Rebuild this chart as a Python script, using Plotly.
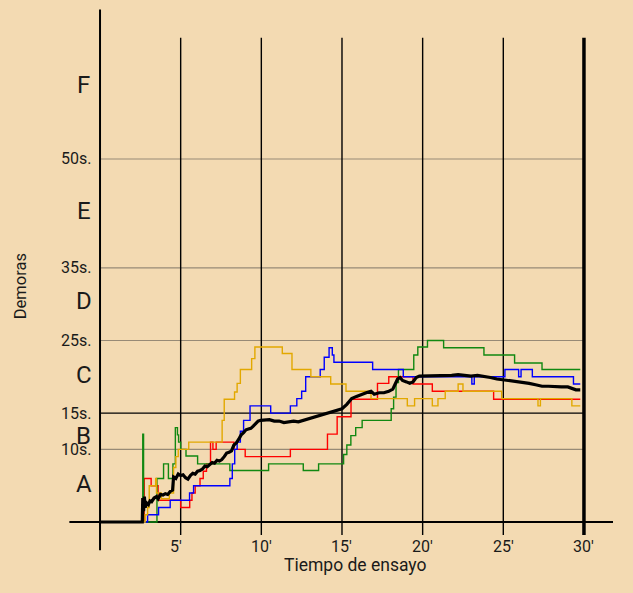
import plotly.graph_objects as go

# ---------------- data (minutes, seconds) ----------------
red_t = [2.6, 2.74, 3.17, 3.6, 5.0, 5.56, 5.7, 5.9, 6.2, 6.4, 6.6, 6.85, 7.0, 7.2, 8.3, 9.0, 11.8, 14.1, 14.7, 15.56, 17.2, 17.9, 19.4, 20.6, 24.4, 29.77]
red_v = [0, 6.0, 5.0, 3.0, 2.0, 3.0, 4.0, 5.0, 6.0, 7.0, 8.0, 11.0, 10.0, 11.0, 10.0, 9.0, 10.0, 12.1, 14.5, 16.9, 19.1, 20.0, 19.0, 18.0, 16.9, 16.9]

blue_t = [2.6, 2.95, 3.63, 4.35, 5.55, 5.8, 8.05, 8.2, 8.35, 8.5, 8.7, 8.9, 9.3, 10.58, 11.8, 12.2, 12.5, 12.75, 13.65, 13.9, 14.2, 14.4, 14.5, 16.9, 18.8, 23.05, 23.2, 25.1, 25.95, 26.1, 26.8, 29.35, 29.77]
blue_v = [0, 1.0, 2.0, 3.0, 4.0, 5.0, 6.0, 8.0, 10.0, 11.0, 12.5, 14.0, 16.0, 15.0, 16.0, 17.0, 18.0, 20.0, 21.0, 22.7, 24.0, 23.0, 22.0, 21.0, 20.0, 19.0, 20.0, 21.0, 20.0, 21.0, 20.0, 19.0, 19.0]

green_t = [2.6, 2.65, 2.7, 3.53, 3.94, 4.24, 4.52, 4.67, 4.8, 4.87, 5.0, 5.33, 6.05, 8.05, 10.45, 12.6, 13.55, 15.1, 15.3, 15.55, 15.85, 16.25, 18.05, 18.2, 18.35, 18.5, 19.45, 19.7, 20.3, 21.3, 23.8, 25.7, 27.4, 29.77]
green_v = [0, 12.1, 0, 6.0, 8.0, 6.0, 8.0, 13.0, 12.0, 11.0, 10.0, 9.1, 8.0, 7.1, 8.0, 7.1, 8.0, 9.3, 10.6, 11.9, 13.0, 14.0, 15.6, 17.2, 19.2, 21.0, 23.0, 24.1, 25.0, 24.0, 23.0, 21.9, 21.0, 21.0]

yellow_t = [2.6, 2.8, 2.95, 3.05, 3.45, 3.5, 3.8, 4.3, 4.56, 4.7, 4.85, 5.5, 7.57, 7.7, 8.34, 8.5, 8.7, 9.4, 9.6, 11.3, 11.9, 13.07, 14.3, 15.25, 16.8, 19.05, 19.5, 20.6, 20.95, 21.4, 22.2, 22.5, 24.9, 27.15, 27.3, 29.25, 29.77]
yellow_v = [0, 1.0, 2.0, 5.0, 6.0, 4.0, 3.2, 4.0, 7.5, 9.0, 10.0, 11.0, 14.0, 16.9, 17.9, 19.1, 21.0, 22.5, 24.1, 23.2, 21.0, 20.0, 19.0, 18.0, 17.0, 16.0, 17.0, 16.0, 17.0, 18.0, 19.0, 18.0, 17.0, 16.0, 17.0, 16.0, 16.0]

avg_t = [0, 2.62, 2.65, 2.7, 2.75, 2.8, 2.9, 3.0, 3.1, 3.2, 3.35, 3.5, 3.6, 3.75, 3.9, 4.05, 4.2, 4.35, 4.5, 4.56, 4.7, 4.85, 5.0, 5.15, 5.3, 5.45, 5.6, 5.75, 5.9, 6.05, 6.2, 6.35, 6.5, 6.65, 6.8, 6.95, 7.1, 7.25, 7.4, 7.55, 7.7, 7.85, 8.0, 8.15, 8.3, 8.45, 8.6, 8.75, 8.9, 9.05, 9.2, 9.35, 9.5, 9.65, 9.8, 9.95, 10.2, 10.5, 10.8, 11.1, 11.4, 11.7, 12.0, 12.3, 12.6, 12.9, 13.2, 13.5, 13.8, 14.1, 14.4, 14.7, 15.0, 15.3, 15.6, 15.9, 16.2, 16.5, 16.8, 17.0, 17.3, 17.6, 17.9, 18.15, 18.3, 18.45, 18.6, 18.75, 19.0, 19.2, 19.4, 19.6, 19.8, 20.1, 20.4, 20.7, 21.0, 21.4, 21.8, 22.2, 22.6, 23.0, 23.4, 23.8, 24.2, 24.6, 25.0, 25.4, 25.8, 26.2, 26.6, 27.0, 27.4, 27.8, 28.2, 28.6, 29.0, 29.3, 29.5, 29.77]
avg_v = [0, 0, 3.3, 1.5, 3.5, 2.0, 2.6, 2.4, 2.9, 2.8, 3.3, 3.5, 3.2, 3.8, 3.7, 3.9, 3.8, 4.2, 4.4, 6.2, 6.0, 6.6, 6.4, 6.5, 6.1, 5.9, 6.4, 6.7, 6.6, 7.0, 7.1, 7.3, 7.7, 7.6, 7.9, 8.2, 8.1, 8.5, 8.4, 8.6, 9.0, 9.5, 9.6, 9.8, 10.6, 10.9, 11.4, 12.0, 12.3, 12.7, 12.8, 12.9, 13.2, 13.5, 13.9, 14.0, 14.0, 14.1, 13.9, 13.9, 13.7, 13.8, 13.9, 13.8, 14.0, 14.1, 14.3, 14.5, 14.7, 14.9, 15.1, 15.4, 15.6, 16.2, 17.0, 17.3, 17.6, 17.8, 18.0, 17.6, 17.8, 17.8, 18.0, 18.3, 19.0, 19.7, 19.9, 19.5, 19.3, 19.1, 19.3, 19.9, 20.1, 20.1, 20.2, 20.1, 20.1, 20.2, 20.2, 20.3, 20.2, 20.1, 20.2, 20.1, 19.9, 19.7, 19.6, 19.5, 19.3, 19.2, 19.1, 18.9, 18.7, 18.7, 18.6, 18.6, 18.6, 18.3, 18.2, 18.2]

x_ticks = [5, 10, 15, 20, 25, 30]
x_tick_text = ["5′", "10′", "15′", "20′", "25′", "30′"]
y_grid = [10, 15, 25, 35, 50]
y_tick_text = ["10s.", "15s.", "25s.", "35s.", "50s."]
grades = ["A", "B", "C", "D", "E", "F"]
grade_pos = [5.2, 11.8, 20.2, 30.4, 42.8, 60.2]

BG = "#f3dab2"
FONT = "Roboto"

fig = go.Figure()
for t, v, c in [(red_t, red_v, "#ff0000"), (green_t, green_v, "#118811"),
                (blue_t, blue_v, "#0000ff"), (yellow_t, yellow_v, "#e2a800")]:
    fig.add_trace(go.Scatter(x=t, y=v, mode="lines", line=dict(color=c, width=1.4, shape="hv"),
                             hoverinfo="skip", showlegend=False))
fig.add_trace(go.Scatter(x=avg_t, y=avg_v, mode="lines", line=dict(color="#000000", width=3.2),
                         hoverinfo="skip", showlegend=False))

shapes = []
# horizontal grid lines
for g in y_grid:
    shapes.append(dict(type="line", xref="x", yref="y", x0=0, x1=30, y0=g, y1=g,
                       line=dict(color="#000000" if g == 15 else "#978a76", width=1.1), layer="below"))
# vertical grid lines
for t in x_ticks:
    shapes.append(dict(type="line", xref="x", yref="y", x0=t, x1=t, y0=-1.8, y1=66.7,
                       line=dict(color="#000000", width=3.5 if t == 30 else 1.4), layer="below"))
# axes
shapes.append(dict(type="line", xref="x", yref="y", x0=-1.9, x1=31.8, y0=0, y1=0,
                   line=dict(color="#000000", width=2), layer="below"))
shapes.append(dict(type="line", xref="x", yref="y", x0=0, x1=0, y0=-3.9, y1=70.6,
                   line=dict(color="#000000", width=2), layer="below"))

annotations = []
for t, txt in zip(x_ticks, x_tick_text):
    annotations.append(dict(x=t, y=-3.4, xref="x", yref="y", text=txt, showarrow=False,
                            xanchor="center", yanchor="middle", xshift=-5 if t == 5 else 0,
                            font=dict(family=FONT, size=16, color="#1a1a1a")))
for g, txt in zip(y_grid, y_tick_text):
    annotations.append(dict(x=-0.45, y=g, xref="x", yref="y", text=txt, showarrow=False,
                            xanchor="right", yanchor="middle",
                            font=dict(family=FONT, size=16, color="#1a1a1a")))
for g, txt in zip(grade_pos, grades):
    annotations.append(dict(x=-1.0, y=g, xref="x", yref="y", text=txt, showarrow=False,
                            xanchor="center", yanchor="middle",
                            font=dict(family=FONT, size=24, color="#1a1a1a")))
annotations.append(dict(x=15.8, y=-5.9, xref="x", yref="y", text="Tiempo de ensayo", showarrow=False,
                        xanchor="center", yanchor="middle", font=dict(family=FONT, size=17.5, color="#1a1a1a")))
annotations.append(dict(x=-4.95, y=32.5, xref="x", yref="y", text="Demoras", showarrow=False,
                        textangle=-90, xanchor="center", yanchor="middle",
                        font=dict(family=FONT, size=16.5, color="#1a1a1a")))

fig.update_layout(
    width=633, height=593, margin=dict(l=0, r=0, t=0, b=0),
    paper_bgcolor=BG, plot_bgcolor=BG,
    xaxis=dict(range=[-6.2, 33.04], visible=False, fixedrange=True),
    yaxis=dict(range=[-9.78, 71.9], visible=False, fixedrange=True),
    shapes=shapes, annotations=annotations, showlegend=False,
)
fig.write_html("out.html", config={"displayModeBar": False})
